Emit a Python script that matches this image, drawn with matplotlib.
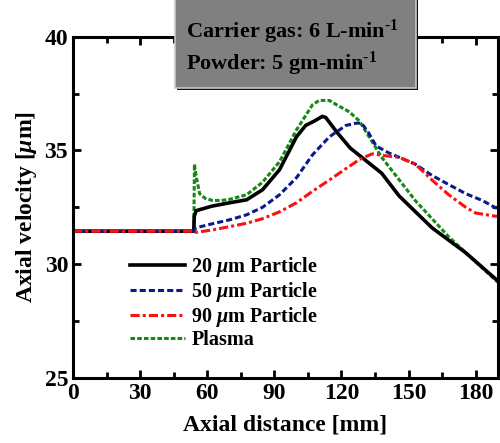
import matplotlib
matplotlib.use('Agg')
import matplotlib.pyplot as plt
from matplotlib.patches import Rectangle

plt.rcParams['font.family'] = 'Liberation Serif'
plt.rcParams['font.weight'] = 'bold'
plt.rcParams['axes.labelweight'] = 'bold'
plt.rcParams['mathtext.fontset'] = 'custom'
plt.rcParams['mathtext.rm'] = 'Liberation Serif:bold'
plt.rcParams['mathtext.it'] = 'Liberation Serif:italic:bold'
plt.rcParams['mathtext.bf'] = 'Liberation Serif:bold'
plt.rcParams['mathtext.default'] = 'regular'

# plasma
x_plasma = [0, 54, 54.3, 55, 56.6, 59, 62.4, 66, 70, 77.6, 84.7, 92.3, 99.9, 107, 110,
            114.6, 118, 123.5, 128, 138, 153, 168, 180, 190]
y_plasma = [31.45, 31.45, 34.4, 33.9, 33.1, 32.9, 32.8, 32.8, 32.85, 33.05, 33.6, 34.5,
            35.9, 37.0, 37.2, 37.2, 37.0, 36.7, 36.3, 34.7, 32.8, 31.2, 30.1, 29.2]

# 20 um
x_20 = [0, 54, 54.2, 55, 62, 70, 77.6, 84.7, 92.3, 99.9, 104, 108, 111.5, 113, 118, 124,
        138, 145.8, 160.5, 175.6, 189.5]
y_20 = [31.45, 31.45, 32.1, 32.35, 32.55, 32.7, 32.83, 33.27, 34.15, 35.6, 36.1, 36.3,
        36.5, 36.45, 35.8, 35.1, 34.0, 33.0, 31.6, 30.5, 29.3]

# 50 um
x_50 = [0, 54, 55, 62, 70, 77.6, 84.7, 92.3, 99.9, 107, 114.6, 122, 126.6, 129, 132,
        135.5, 141, 153, 160.5, 168, 175.6, 183, 189.5]
y_50 = [31.45, 31.45, 31.6, 31.77, 31.95, 32.17, 32.5, 33.05, 33.8, 34.8, 35.6, 36.1,
        36.2, 36.2, 35.8, 35.2, 34.9, 34.4, 33.9, 33.5, 33.1, 32.8, 32.45]

# 90 um
x_90 = [0, 54, 55, 62, 70, 77.6, 84.7, 92.3, 99.9, 107, 114.6, 122, 128, 133.7, 141,
        145.8, 153, 160.5, 168, 175.6, 180, 189.5]
y_90 = [31.45, 31.45, 31.4, 31.5, 31.65, 31.8, 32.0, 32.3, 32.7, 33.2, 33.7, 34.2, 34.6,
        34.85, 34.75, 34.7, 34.4, 33.7, 33.05, 32.5, 32.25, 32.1]

xticks = [0, 30, 60, 90, 120, 150, 180]
yticks = [25, 30, 35, 40]

fig = plt.figure(figsize=(5, 4.43), dpi=100)
ax = fig.add_axes([0.146, 0.147, 0.85, 0.77])

lw = 2.2
ax.plot(x_20, y_20, color='black', lw=lw + 0.4, label=r'20 $\mathit{\mu}$m Particle')
ax.plot(x_50, y_50, color='#0a1a8c', lw=lw, linestyle=(0, (2, 1)),
        label=r'50 $\mathit{\mu}$m Particle')
ax.plot(x_90, y_90, color='#ff1010', lw=lw, linestyle=(0, (3, 1, 1, 1)),
        label=r'90 $\mathit{\mu}$m Particle')
ax.plot(x_plasma, y_plasma, color='#138a13', lw=lw, linestyle=(0, (1.5, 0.7)),
        label='Plasma', zorder=1.9)

ax.set_xlim(0, 190)
ax.set_ylim(25, 40)
ax.set_xticks(xticks)
ax.set_yticks(yticks)
ax.set_xticks([15, 45, 75, 105, 135, 165], minor=True)
ax.set_yticks([27.5, 32.5, 37.5], minor=True)
ax.tick_params(which='both', direction='in', top=True, right=True, width=2,
               labelsize=17)
ax.tick_params(which='major', length=6)
ax.tick_params(which='minor', length=4)
for s in ax.spines.values():
    s.set_linewidth(2.2)

ax.set_xlabel('Axial distance [mm]', fontsize=17, labelpad=8)
ax.set_ylabel(r'Axial velocity [$\mathit{\mu}$m]', fontsize=17, labelpad=4)

ax.legend(loc='upper left', bbox_to_anchor=(0.115, 0.385), frameon=False, fontsize=14.5,
          handlelength=2.75, handletextpad=0.3, labelspacing=0.05, borderaxespad=0)

# annotation box with shadow
fig.patches.append(Rectangle((0.354, 0.797), 0.482, 0.205, transform=fig.transFigure,
                             facecolor='#111111', edgecolor='none', zorder=5))
fig.patches.append(Rectangle((0.350, 0.802), 0.482, 0.205, transform=fig.transFigure,
                             facecolor='#808080', edgecolor='#c8c8c8', lw=1.2, zorder=6))
fig.text(0.372, 0.915, r'Carrier gas: 6 L-min$^{\text{-1}}$', fontsize=16, zorder=7,
         va='baseline')
fig.text(0.372, 0.843, r'Powder: 5 gm-min$^{\text{-1}}$', fontsize=16, zorder=7,
         va='baseline')

fig.savefig('out.png', dpi=100)
